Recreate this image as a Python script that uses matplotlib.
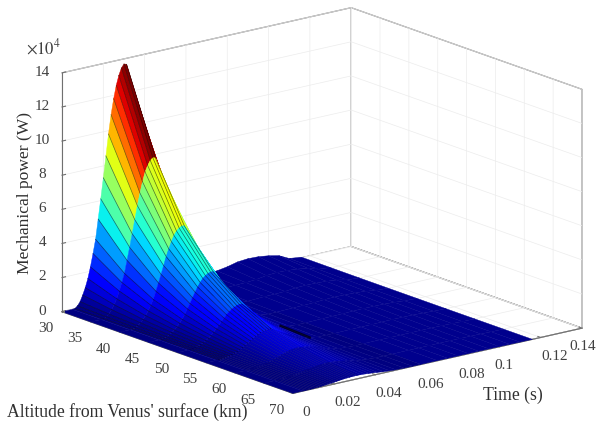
import numpy as np
import matplotlib
matplotlib.use('Agg')
import matplotlib.pyplot as plt

plt.rcParams['font.family'] = ['Liberation Serif', 'DejaVu Serif']
plt.rcParams['mathtext.fontset'] = 'stix'

# altitude (km), time (s), power in units of 1e4 W
altitude = [30, 35, 40, 45, 50, 55, 60, 65, 70]
time_s = [0, .005, .00625, .0075, .00875, .01, .01125, .0125, .01375, .015, .01625, .0175, .01875,
          .02, .02125, .0225, .02375, .025, .02625, .0275, .02875, .03, .03125,
          .033, .035, .037, .039, .041, .044, .047, .05, .054, .058, .062,
          .07, .075, .08, .085, .09, .095, .10, .105, .11, .116]

p30 = [0, 0, .02, .14, .35, .7, 1.1, 1.6, 2.25, 3.0, 3.8, 4.95, 6.1, 7.3, 8.55, 9.8, 10.9, 11.8, 12.55, 13.1, 13.5, 13.7, 13.65,
       12.8, 11.8, 10.8, 9.8, 8.6, 6.0, 3.0, 1.4, .6, .4, .3,
       .32, .35, .45, .6, .65, .63, .55, .42, .12, .03]
p35 = [0, 0, .013, .09, .22, .44, .7, 1.01, 1.43, 1.9, 2.4, 3.13, 3.86, 4.62, 5.41, 6.2, 6.9, 7.53, 8.07, 8.42, 8.68, 8.8, 8.76,
       8.18, 7.5, 6.85, 6.2, 5.5, 4.0, 2.0, .88, .35, .22, .2,
       .24, .26, .3, .4, .44, .42, .37, .28, .09, .02]
p40 = [0, 0, .008, .054, .135, .27, .43, .62, .87, 1.17, 1.47, 1.92, 2.37, 2.84, 3.32, 3.81, 4.23, 4.62, 4.95, 5.17, 5.32, 5.4, 5.38,
       5.0, 4.56, 4.12, 3.68, 3.2, 2.3, 1.1, .54, .22, .14, .12,
       .17, .18, .2, .27, .29, .28, .25, .19, .06, .012]
p45 = [0, 0, .005, .033, .083, .165, .26, .38, .53, .71, .9, 1.17, 1.45, 1.73, 2.03, 2.33, 2.59, 2.82, 3.03, 3.16, 3.25, 3.3, 3.29,
       2.98, 2.62, 2.26, 1.9, 1.55, 1.05, .6, .33, .13, .08, .08,
       .11, .12, .14, .18, .2, .19, .17, .13, .04, .008]
p50 = [0, 0, .003, .02, .05, .1, .16, .23, .32, .43, .55, .71, .88, 1.05, 1.23, 1.41, 1.57, 1.71, 1.83, 1.91, 1.97, 2.0, 1.99,
       1.78, 1.54, 1.3, 1.06, .85, .55, .35, .2, .08, .05, .05,
       .07, .08, .09, .11, .12, .12, .11, .08, .03, .005]
p55 = [0, 0, .002, .012, .029, .058, .092, .132, .186, .248, .314, .41, .505, .604, .707, .811, .902, .984, 1.05, 1.1, 1.13, 1.15, 1.145,
       1.02, .88, .74, .6, .47, .33, .2, .115, .046, .03, .03,
       .045, .05, .055, .07, .08, .075, .07, .05, .02, .003]
p60 = [0, 0, .001, .007, .016, .033, .052, .075, .105, .14, .177, .231, .285, .341, .4, .458, .51, .556, .596, .622, .641, .65, .647,
       .63, .59, .53, .45, .36, .23, .13, .065, .026, .017, .02,
       .03, .03, .032, .04, .045, .044, .04, .03, .012, .002]
p65 = [0, 0, .001, .004, .009, .018, .028, .04, .057, .076, .096, .125, .154, .184, .215, .247, .274, .3, .321, .335, .345, .35, .349,
       .34, .32, .28, .24, .2, .13, .07, .035, .014, .01, .012,
       .018, .018, .02, .025, .027, .027, .025, .018, .007, .001]
p70 = [0, 0, 0, .002, .005, .01, .016, .023, .032, .043, .055, .071, .088, .105, .123, .141, .157, .171, .183, .191, .197, .2, .199,
       .195, .18, .16, .14, .11, .07, .04, .02, .008, .006, .007,
       .01, .01, .012, .014, .016, .015, .013, .01, .004, 0]

x_ticks = [30, 35, 40, 45, 50, 55, 60, 65, 70]
y_ticks = [0, .02, .04, .06, .08, .1, .12, .14]
y_labels = ['0', '0.02', '0.04', '0.06', '0.08', '0.1', '0.12', '0.14']
z_ticks = [0, 2, 4, 6, 8, 10, 12, 14]

fig = plt.figure(figsize=(6, 4.24), dpi=100, facecolor='white')
ax = fig.add_axes([65.25 / 600, -33.25 / 424, 500 / 600, 500 / 424], projection='3d', proj_type='ortho')
ax.view_init(elev=16.4, azim=-38.6)
ax.set_box_aspect((1, 1, 0.673), zoom=1.125)
ax.computed_zorder = False

X, Y = np.meshgrid(altitude, time_s, indexing='ij')
Z = np.array([p30, p35, p40, p45, p50, p55, p60, p65, p70])

# flat shading: each face takes the colour of its first corner
colors = plt.cm.jet(Z / 13.7)
# the plateau behind the hills stays navy
colors[:, time_s.index(.062):] = plt.cm.jet(0.012)

# paint strip by strip from the far end, the sort inside one surface gets the steep hills wrong
n = len(time_s)
for j in reversed(range(n - 1)):
    ax.plot_surface(X[:, j:j + 2], Y[:, j:j + 2], Z[:, j:j + 2], rstride=1, cstride=1,
                    facecolors=colors[:, j:j + 2], linewidth=0.3, shade=False, zorder=2 * (n - j))
    # mesh lines only show across the rising side, and fade towards the front
    if 2 <= j <= 22:
        ax.plot(altitude[:6], [time_s[j]] * 6, Z[:6, j], color=(0, 0, 0, 0.55), lw=0.5,
                zorder=2 * (n - j) + 3)
        ax.plot(altitude[5:], [time_s[j]] * 4, Z[5:, j], color=(0, 0, 0, 0.2), lw=0.4,
                zorder=2 * (n - j) + 3)

# dark crease where the hills run out into the plateau
crease = time_s.index(.05)
ax.plot(altitude[4:6], [time_s[crease]] * 2, Z[4:6, crease], color=(0, 0, 0, 0.7), lw=1.8, zorder=3 * n)

ax.set_xlim(30, 70, view_margin=0)
ax.set_ylim(0, 0.14, view_margin=0)
ax.set_zlim(0, 14, view_margin=0)
ax.set_xticks(x_ticks)
ax.set_yticks(y_ticks)
ax.set_yticklabels(y_labels)
ax.set_zticks(z_ticks)
ax.zaxis.set_ticks_position('lower')
ax.tick_params(labelsize=11, labelcolor='#404040', color='#707070', width=0.6)
ax.tick_params(axis='x', pad=2.5)
ax.tick_params(axis='y', pad=3)
ax.tick_params(axis='z', pad=-1)

for t in ax.xaxis.get_major_ticks() + ax.yaxis.get_major_ticks() + ax.zaxis.get_major_ticks():
    t.label1.set_va('center')
y_major = ax.yaxis.get_major_ticks()
y_major[5].label1.set_ha('right')
y_major[7].label1.set_ha('right')

for axis in (ax.xaxis, ax.yaxis, ax.zaxis):
    axis.set_pane_color((1, 1, 1, 1))
    axis.pane.set_edgecolor('#707070')
    axis.pane.set_linewidth(0.8)
    axis.line.set_color('#707070')
    axis.line.set_linewidth(0.8)
    axis._axinfo['grid'].update(color='#ececec', linewidth=0.5)
    axis._axinfo['tick'].update(inward_factor=0.0, outward_factor=0.15)

fig.text(7 / 600, 1 - 412 / 424, "Altitude from Venus' surface (km)", fontsize=12.7, color='#303030', va='center')
fig.text(483 / 600, 1 - 395 / 424, 'Time (s)', fontsize=12.7, color='#303030', va='center')
fig.text(25 / 600, 1 - 193 / 424, 'Mechanical power (W)', fontsize=12.6, color='#303030', rotation=90, va='center', ha='center')
fig.text(26 / 600, 1 - 48 / 424, r'$\times 10^{4}$', fontsize=12, color='#404040', va='center')

fig.savefig('out.png', dpi=100)
